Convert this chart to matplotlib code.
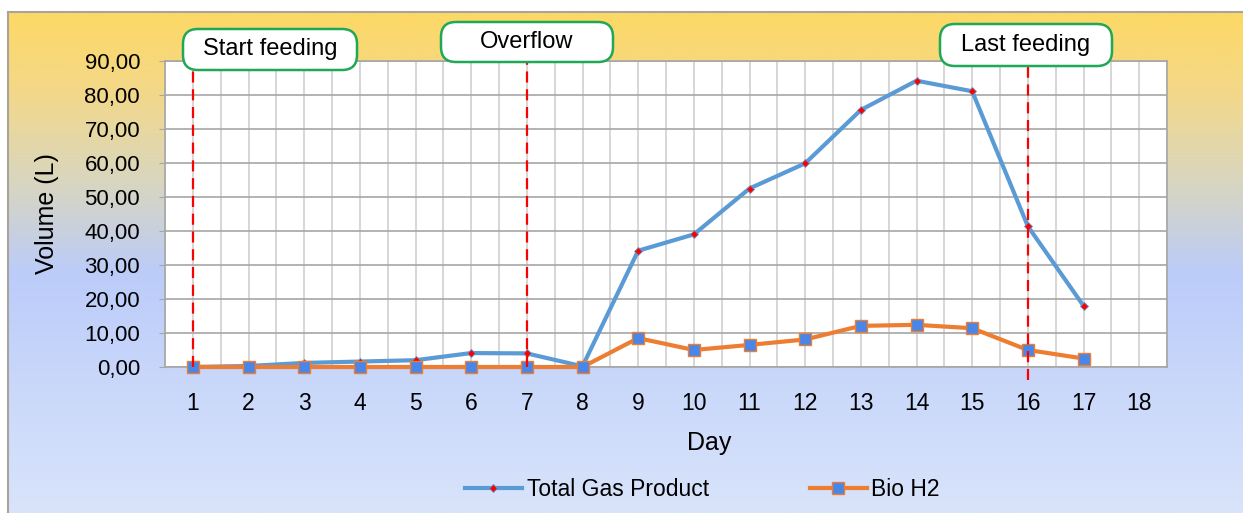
import numpy as np
import matplotlib
matplotlib.use("Agg")
import matplotlib.pyplot as plt
from matplotlib.colors import LinearSegmentedColormap
from matplotlib.patches import FancyBboxPatch
from matplotlib.ticker import FuncFormatter, MultipleLocator

plt.rcParams['font.family'] = ['Liberation Sans', 'DejaVu Sans']

days = [1, 2, 3, 4, 5, 6, 7, 8, 9, 10, 11, 12, 13, 14, 15, 16, 17]
total_gas = [0.0, 0.3, 1.2, 1.6, 2.0, 4.1, 4.0, 0.2, 34.2, 39.0, 52.5, 59.9, 75.6, 84.2, 81.1, 41.4, 18.0]
bio_h2 = [0.0, 0.0, 0.0, 0.0, 0.0, 0.0, 0.0, 0.0, 8.5, 5.0, 6.5, 8.1, 12.1, 12.4, 11.4, 5.0, 2.5]
x_ticks = list(range(1, 19))
y_ticks = [0, 10, 20, 30, 40, 50, 60, 70, 80, 90]
events = [(1, "Start feeding"), (7, "Overflow"), (16, "Last feeding")]

W, H = 1243, 513
fig = plt.figure(figsize=(W / 100, H / 100), dpi=100)

# gradient background frame
bg = fig.add_axes([8 / W, 0, 1 - 8 / W, 1 - 12 / H], zorder=-10)
cmap = LinearSegmentedColormap.from_list(
    "bg", [(0.0, "#FDD865"), (0.15, "#F4D887"), (0.33, "#DAD6BD"),
           (0.52, "#BBCCF9"), (1.0, "#D9E4FB")])
grad = np.linspace(0, 1, 256).reshape(-1, 1)
bg.imshow(grad, aspect="auto", cmap=cmap, extent=[0, 1, 0, 1], origin="upper")
bg.set_xlim(0, 1); bg.set_ylim(0, 1)
bg.set_xticks([]); bg.set_yticks([])
for s in ["right", "bottom"]:
    bg.spines[s].set_visible(False)
for s in ["top", "left"]:
    bg.spines[s].set_color("#A8A49A")
    bg.spines[s].set_linewidth(1.5)

ax = fig.add_axes([165 / W, 1 - 367 / H, (1167 - 165) / W, (367 - 61) / H])
ax.set_facecolor("white")
ax.set_xlim(0.5, 18.5)
ax.set_ylim(0, 90)

ax.xaxis.set_minor_locator(MultipleLocator(0.5))
ax.set_xticks(x_ticks)
ax.set_yticks(y_ticks)
ax.yaxis.set_major_formatter(FuncFormatter(lambda v, p: f"{v:.2f}".replace(".", ",")))

ax.grid(True, axis="y", which="major", color="#A6A6A6", linewidth=1.2, zorder=0)
ax.grid(True, axis="x", which="both", color="#D0D0D0", linewidth=1.2, zorder=0)
ax.set_axisbelow(True)

for s in ax.spines.values():
    s.set_color("#A6A6A6")
    s.set_linewidth(1.2)

ax.tick_params(axis="x", which="both", length=0, labelsize=16.5, pad=18)
ax.tick_params(axis="y", which="major", length=4, color="#A6A6A6", labelsize=16, pad=14)
ax.tick_params(axis="y", which="minor", length=0)

ax.plot(days, total_gas, color="#5B9BD5", linewidth=3, marker="D", markersize=4.5,
        markerfacecolor="#FF0000", markeredgecolor="#5B9BD5", markeredgewidth=0.6,
        label="Total Gas Product", zorder=3, clip_on=False)
ax.plot(days, bio_h2, color="#ED7D31", linewidth=3, marker="s", markersize=8,
        markerfacecolor="#4A86E8", markeredgecolor="#ED7D31", markeredgewidth=1.0,
        label="Bio H2", zorder=4, clip_on=False)

# event lines
ranges = {1: (0.0, (367 - 70) / 306), 7: (0.0, 1.0), 16: (-13 / 306, (367 - 66) / 306)}
for d, _ in events:
    y0, y1 = ranges[d]
    ax.plot([d, d], [y0, y1], transform=ax.get_xaxis_transform(), color="#FF0000",
            linestyle=(0, (5, 3)), linewidth=1.6, zorder=6, clip_on=False)

# annotation boxes (pixel coordinates of figure)
boxes = {1: (183, 29, 174, 41), 7: (441, 22, 172, 40), 16: (940, 24, 172, 42)}
for d, label in events:
    x0, y0, w, h = boxes[d]
    patch = FancyBboxPatch((x0 / W, 1 - (y0 + h) / H), w / W, h / H,
                           boxstyle="round,pad=0,rounding_size=0.012",
                           transform=fig.transFigure, facecolor="white",
                           edgecolor="#1FA855", linewidth=1.8, zorder=20,
                           mutation_aspect=W / H)
    fig.add_artist(patch)
    fig.text((x0 + w / 2) / W, 1 - (y0 + h / 2) / H, label, ha="center", va="center",
             fontsize=17, color="black", zorder=21)

ax.set_xlabel("Day", fontsize=18)
ax.set_ylabel("Volume (L)", fontsize=18)
ax.xaxis.set_label_coords(0.5432, -0.21)
ax.yaxis.set_label_coords(-0.106, 0.5)

leg = fig.legend(handles=ax.get_lines()[:2], labels=["Total Gas Product", "Bio H2"],
                 loc="center", bbox_to_anchor=(0.565, 1 - 490 / H), ncol=2, frameon=False,
                 fontsize=16.5, handlelength=2.5, handletextpad=0.2, columnspacing=4.4)

fig.savefig("out.png", dpi=100)
